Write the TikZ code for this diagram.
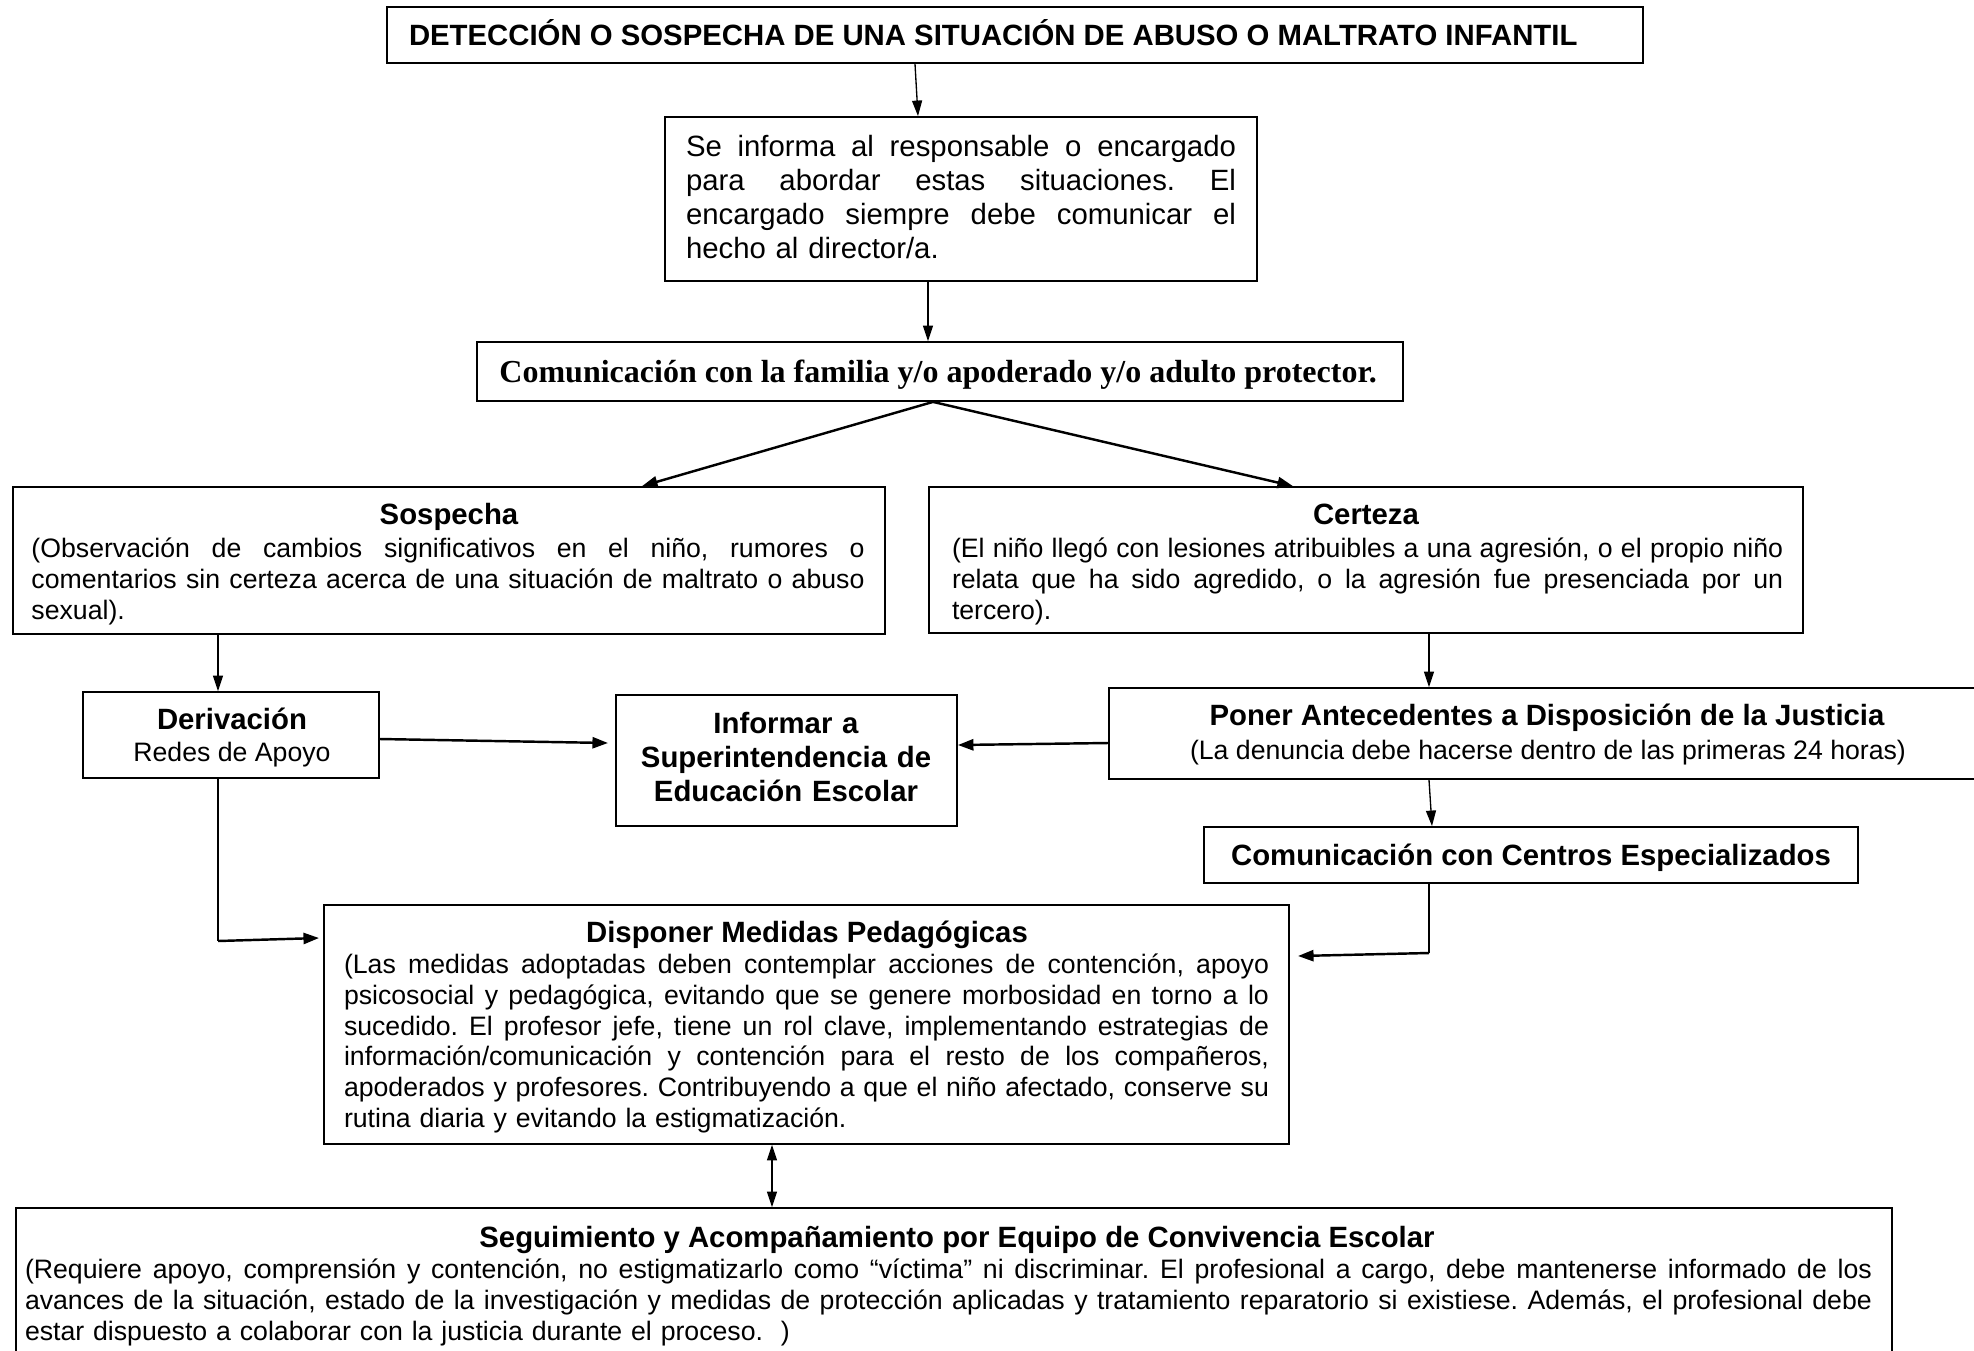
\documentclass[tikz,border=0pt]{standalone}
\usepackage{fontspec}
\setmainfont{Liberation Sans}
\newfontfamily\timesfont{Liberation Serif}
\usetikzlibrary{arrows.meta,fit,calc}
\frenchspacing
\newcommand\jl[1]{\leavevmode\hbox to \jw{\spaceskip=0pt\xspaceskip=0pt #1}\\}
\begin{document}
\begin{tikzpicture}[x=0.45pt,y=-0.45pt,
  box/.style={draw, line width=0.8pt, inner sep=0pt, fit={#1}},
  txt/.style={inner sep=0pt, outer sep=0pt, font=\fontsize{12}{13.86}\selectfont},
  bftxt/.style={inner sep=0pt, outer sep=0pt, font=\fontsize{13.2}{15.3}\selectfont\bfseries},
  arr/.style={line width=0.6pt, -{Triangle[length=7pt,width=4.5pt]}},
  arrT/.style={line width=1.1pt, -{Triangle[length=7pt,width=5pt]}},
  arrD/.style={line width=0.6pt, {Triangle[length=7pt,width=4.5pt]}-{Triangle[length=7pt,width=4.5pt]}},
  thinline/.style={line width=0.6pt}
]
\useasboundingbox (0,0) rectangle (1974,1350);
\fill[white] (0,0) rectangle (1974,1350);

% boxes
\node[box={(387,7) (1643,63)}] (top) {};
\node[box={(665,117) (1257,281)}] (box2) {};
\node[box={(477,342) (1403,401)}] (box3) {};
\node[box={(13,487) (885,634)}] (sosp) {};
\node[box={(929,487) (1803,633)}] (cert) {};
\node[box={(83,692) (379,778)}] (deriv) {};
\node[box={(616,695) (957,826)}] (inform) {};
\node[box={(1109,688) (1990,779)}] (poner) {};
\node[box={(1204,827) (1858,883)}] (centros) {};
\node[box={(324,905) (1289,1144)}] (disp) {};
\node[box={(16,1208) (1892,1358)}] (seg) {};

% texts
\node[bftxt, anchor=base west] (ttop) at (409,45) {DETECCIÓN O SOSPECHA DE UNA SITUACIÓN DE ABUSO O MALTRATO INFANTIL};

\node[txt, anchor=base west, text width=247.5pt, align=left, font=\fontsize{13.2}{15.3}\selectfont] (tbox2) at (686,156)
 {\def\jw{247.5pt}\jl{Se informa al responsable o encargado}\jl{para abordar estas situaciones. El}\jl{encargado siempre debe comunicar el}hecho al director/a.};

\node[inner sep=0pt, anchor=base west, font=\fontsize{14.4}{16}\selectfont\timesfont\bfseries] (tbox3) at (499,382)
 {Comunicación con la familia y/o apoderado y/o adulto protector.};

\node[bftxt, anchor=base] (hsosp) at (449,524.5) {Sospecha};
\node[txt, anchor=base west, text width=374.85pt, align=left] (tsosp) at (31.5,557.5)
 {\def\jw{374.85pt}\jl{(Observación de cambios significativos en el niño, rumores o}\jl{comentarios sin certeza acerca de una situación de maltrato o abuso}sexual).};

\node[bftxt, anchor=base] (hcert) at (1366,524.5) {Certeza};
\node[txt, anchor=base west, text width=374pt, align=left] (tcert) at (952,557.5)
 {\def\jw{374pt}\jl{(El niño llegó con lesiones atribuibles a una agresión, o el propio niño}\jl{relata que ha sido agredido, o la agresión fue presenciada por un}tercero).};

\node[bftxt, anchor=base] (hderiv) at (232,729.5) {Derivación};
\node[txt, anchor=base] (tderiv) at (232,761.5) {Redes de Apoyo};

\node[bftxt, anchor=base, text width=150pt, align=center] (tinform) at (786,733.5)
 {Informar a\\Superintendencia de\\Educación Escolar};

\node[bftxt, anchor=base] (hponer) at (1547,725.5) {Poner Antecedentes a Disposición de la Justicia};
\node[txt, anchor=base] (tponer) at (1548,759.5) {(La denuncia debe hacerse dentro de las primeras 24 horas)};

\node[bftxt, anchor=base] (tcentros) at (1531,865.5) {Comunicación con Centros Especializados};

\node[bftxt, anchor=base] (hdisp) at (807,942.5) {Disponer Medidas Pedagógicas};
\node[txt, anchor=base west, text width=416.25pt, align=left] (tdisp) at (344,973.5)
 {\def\jw{416.25pt}\jl{(Las medidas adoptadas deben contemplar acciones de contención, apoyo}\jl{psicosocial y pedagógica, evitando que se genere morbosidad en torno a lo}\jl{sucedido. El profesor jefe, tiene un rol clave, implementando estrategias de}\jl{información/comunicación y contención para el resto de los compañeros,}\jl{apoderados y profesores. Contribuyendo a que el niño afectado, conserve su}rutina diaria y evitando la estigmatización.};

\node[bftxt, anchor=base] (hseg) at (957,1247.5) {Seguimiento y Acompañamiento por Equipo de Convivencia Escolar};
\node[txt, anchor=base west, text width=831.15pt, align=left] (tseg) at (25,1278.5)
 {\def\jw{831.15pt}\jl{(Requiere apoyo, comprensión y contención, no estigmatizarlo como “víctima” ni discriminar. El profesional a cargo, debe mantenerse informado de los}\jl{avances de la situación, estado de la investigación y medidas de protección aplicadas y tratamiento reparatorio si existiese. Además, el profesional debe}estar dispuesto a colaborar con la justicia durante el proceso.\ \ )};

% connectors
\draw[arr] (915,0 |- top.south) -- (918,0 |- box2.north);
\draw[arr] (928,0 |- box2.south) -- (928,0 |- box3.north);
\draw[arrT] (933,0 |- box3.south) -- (642,0 |- sosp.north);
\draw[arrT] (933,0 |- box3.south) -- (1293,0 |- cert.north);
\draw[arr] (218,0 |- sosp.south) -- (218,0 |- deriv.north);
\draw[arr] (1429,0 |- cert.south) -- (1429,0 |- poner.north);
\draw[arrT] (deriv.east |- 0,739) -- (608,743);
\draw[arrT] (poner.west |- 0,743) -- (inform.east |- 0,745);
\draw[arr] (1429,0 |- poner.south) -- (1432,0 |- centros.north);
\coordinate (c1) at (218,941);
\draw[thinline] (218,0 |- deriv.south) -- (c1);
\draw[arrT] (c1) -- (319,938);
\coordinate (c2) at (1429,953);
\draw[thinline] (1429,0 |- centros.south) -- (c2);
\draw[arrT] (c2) -- (1298,956);
\draw[arrD] (772,0 |- disp.south) -- (772,0 |- seg.north);
\end{tikzpicture}
\end{document}
